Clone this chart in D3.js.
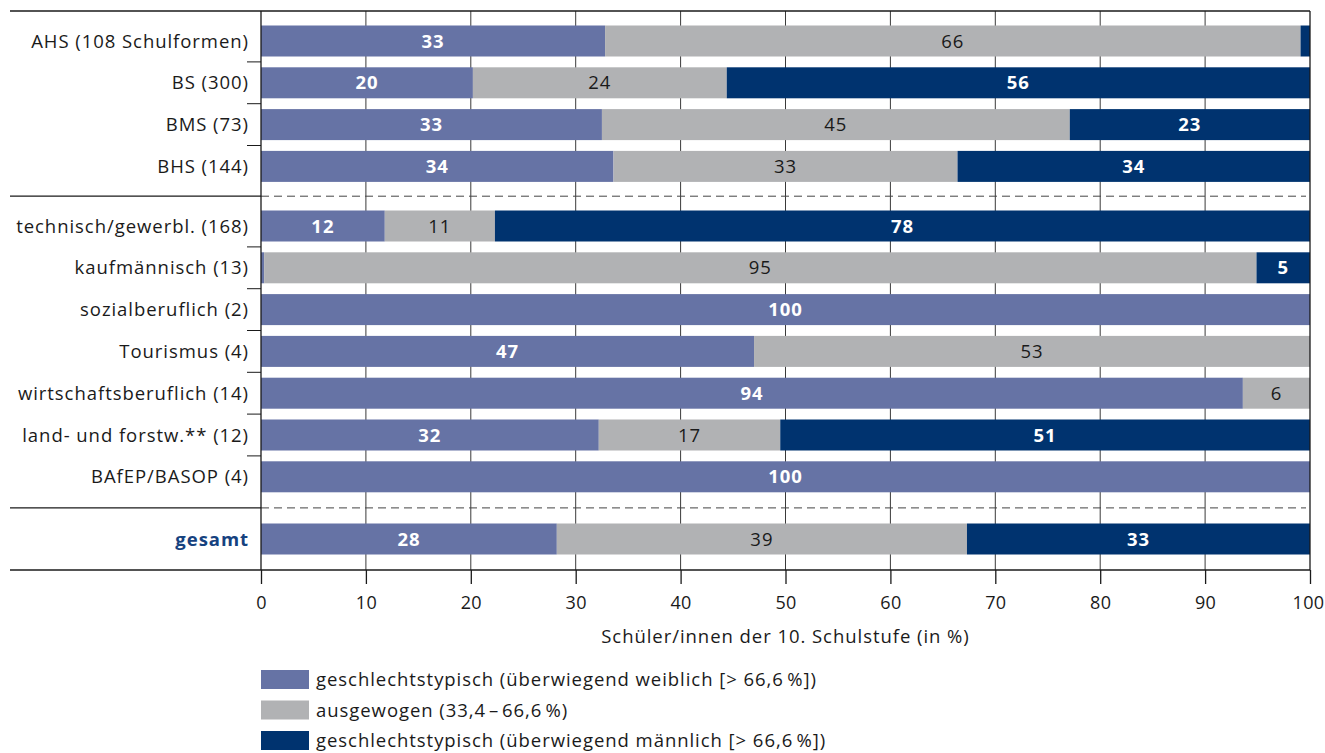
<!DOCTYPE html>
<html><head><meta charset="utf-8">
<script src="https://cdn.jsdelivr.net/npm/d3@7"></script>
<style>
body{margin:0;background:#fff;}
svg{display:block;font-family:"Open Sans",Lato,sans-serif;}
svg text{letter-spacing:0.95px;}
svg .tick text{letter-spacing:0.3px;}
</style></head>
<body>
<svg id="chart" width="1325" height="753"></svg>
<script>
const categories = ["AHS (108 Schulformen)","BS (300)","BMS (73)","BHS (144)",
  "technisch/gewerbl. (168)","kaufmännisch (13)","sozialberuflich (2)","Tourismus (4)",
  "wirtschaftsberuflich (14)","land- und forstw.** (12)","BAfEP/BASOP (4)","gesamt"];
const groups = [0,0,0,0,1,1,1,1,1,1,1,2];
const weiblich = [32.8,20.2,32.5,33.6,11.8,0.3,100,47.0,93.6,32.2,100,28.2];
const ausgewogen = [66.3,24.2,44.6,32.8,10.5,94.6,0,53.0,6.4,17.3,0,39.1];
const maennlich = [0.9,55.6,22.9,33.6,77.7,5.1,0,0,0,50.5,0,32.7];
const xTicks = [0,10,20,30,40,50,60,70,80,90,100];
const seriesNames = ["geschlechtstypisch (überwiegend weiblich [> 66,6\u202F%])","ausgewogen (33,4\u200A–\u200A66,6\u202F%)","geschlechtstypisch (überwiegend männlich [> 66,6\u202F%])"];
const colors = ["#6673a5","#b1b2b4","#00336f"];
const labelColors = ["#fff","#1a1a1a","#fff"];
const labelWeights = ["bold","normal","bold"];
const axisTitle = "Schüler/innen der 10. Schulstufe (in %)";

(function(){
const FS = 18.5;
const svg = d3.select("#chart");
const pLeft = 261, pRight = 1310, pTop = 11, pBottom = 570, lineLeft = 10;
const x = d3.scaleLinear().domain([0,100]).range([pLeft,pRight]);
const rowStep = 41.8, barH = 31;
const groupGap = [0, 17.8, 38.2];
const yIdx = d3.scaleLinear().domain([0,1]).range([41, 41+rowStep]);
const yc = i => yIdx(i) + groupGap[groups[i]];

// gridlines
svg.append("g").selectAll("line").data(xTicks.slice(1,-1)).join("line")
  .attr("x1",d=>x(d)).attr("x2",d=>x(d)).attr("y1",pTop).attr("y2",pBottom)
  .attr("stroke","#3a3a3a").attr("stroke-width",1);

// bars
const data = categories.map((c,i)=>({c,i,vals:[weiblich[i],ausgewogen[i],maennlich[i]]}));
const segs = [];
data.forEach(d=>{let acc=0; d.vals.forEach((v,k)=>{segs.push({i:d.i,k,x0:acc,x1:acc+v,v}); acc+=v;});});
svg.append("g").selectAll("rect").data(segs.filter(s=>s.v>0)).join("rect")
  .attr("x",s=>x(s.x0)).attr("width",s=>x(s.x1)-x(s.x0))
  .attr("y",s=>yc(s.i)-barH/2).attr("height",barH)
  .attr("fill",s=>colors[s.k]);
svg.append("g").selectAll("text").data(segs.filter(s=>s.v>=3)).join("text")
  .attr("x",s=>(x(s.x0)+x(s.x1))/2).attr("y",s=>yc(s.i)).attr("dy","0.36em")
  .attr("text-anchor","middle").attr("font-size",FS)
  .attr("fill",s=>labelColors[s.k]).attr("font-weight",s=>labelWeights[s.k])
  .text(s=>Math.round(s.v));

// category labels
svg.append("g").selectAll("text").data(categories).join("text")
  .attr("x",249).attr("y",(d,i)=>yc(i)).attr("dy","0.36em").attr("text-anchor","end")
  .attr("font-size",FS)
  .attr("fill",(d,i)=>i===11?"#16427f":"#1a1a1a").attr("font-weight",(d,i)=>i===11?"bold":"normal")
  .text(d=>d);

// small ticks between rows in same group
const between = [];
for(let i=0;i<categories.length-1;i++){ if(groups[i]===groups[i+1]) between.push((yc(i)+yc(i+1))/2); }
svg.append("g").selectAll("line").data(between).join("line")
  .attr("x1",247).attr("x2",pLeft).attr("y1",d=>d).attr("y2",d=>d)
  .attr("stroke","#1a1a1a").attr("stroke-width",1);

// separators
const seps = [];
for(let i=0;i<categories.length-1;i++){ if(groups[i]!==groups[i+1]) seps.push((yc(i)+yc(i+1))/2); }
seps.forEach(s=>{
  svg.append("line").attr("x1",lineLeft).attr("x2",pLeft).attr("y1",s).attr("y2",s).attr("stroke","#1a1a1a").attr("stroke-width",1.3);
  svg.append("line").attr("x1",pLeft).attr("x2",pRight-4).attr("y1",s).attr("y2",s).attr("stroke","#444").attr("stroke-width",1).attr("stroke-dasharray","8,5");
});

// frame lines
svg.append("line").attr("x1",lineLeft).attr("x2",pRight).attr("y1",pTop).attr("y2",pTop).attr("stroke","#1a1a1a").attr("stroke-width",1.3);
svg.append("line").attr("x1",pRight).attr("x2",pRight).attr("y1",pTop).attr("y2",pBottom).attr("stroke","#1a1a1a").attr("stroke-width",1.3);
svg.append("line").attr("x1",pLeft).attr("x2",pLeft).attr("y1",pTop).attr("y2",pBottom).attr("stroke","#1a1a1a").attr("stroke-width",1.3);
svg.append("line").attr("x1",lineLeft).attr("x2",pLeft).attr("y1",pBottom).attr("y2",pBottom).attr("stroke","#1a1a1a").attr("stroke-width",1.3);

// x axis
const xAxis = d3.axisBottom(x).tickValues(xTicks).tickSize(14).tickPadding(12).tickFormat(d3.format("d"));
const gx = svg.append("g").attr("transform",`translate(0,${pBottom})`).call(xAxis);
gx.select(".domain").attr("stroke","#1a1a1a").attr("stroke-width",1.3).attr("d",`M${pLeft},0H${pRight}`);
gx.selectAll(".tick line").attr("stroke","#1a1a1a").attr("stroke-width",1.3);
gx.selectAll(".tick text").attr("font-size",18).attr("fill","#1a1a1a").attr("font-family","'Open Sans',Lato,sans-serif")
  .attr("dx",d=>d===100?-2:0);

svg.append("text").attr("x",x(50)).attr("y",636).attr("dy","0.36em").attr("text-anchor","middle")
  .attr("font-size",FS).attr("fill","#1a1a1a").text(axisTitle);

// legend
const lg = svg.append("g").selectAll("g").data(seriesNames).join("g")
  .attr("transform",(d,i)=>`translate(261,${670+i*30.5})`);
lg.append("rect").attr("width",48).attr("height",19).attr("fill",(d,i)=>colors[i]);
lg.append("text").attr("x",55).attr("y",9.5).attr("dy","0.36em").attr("font-size",FS).attr("fill","#1a1a1a").text(d=>d);
})();
</script>
</body></html>
